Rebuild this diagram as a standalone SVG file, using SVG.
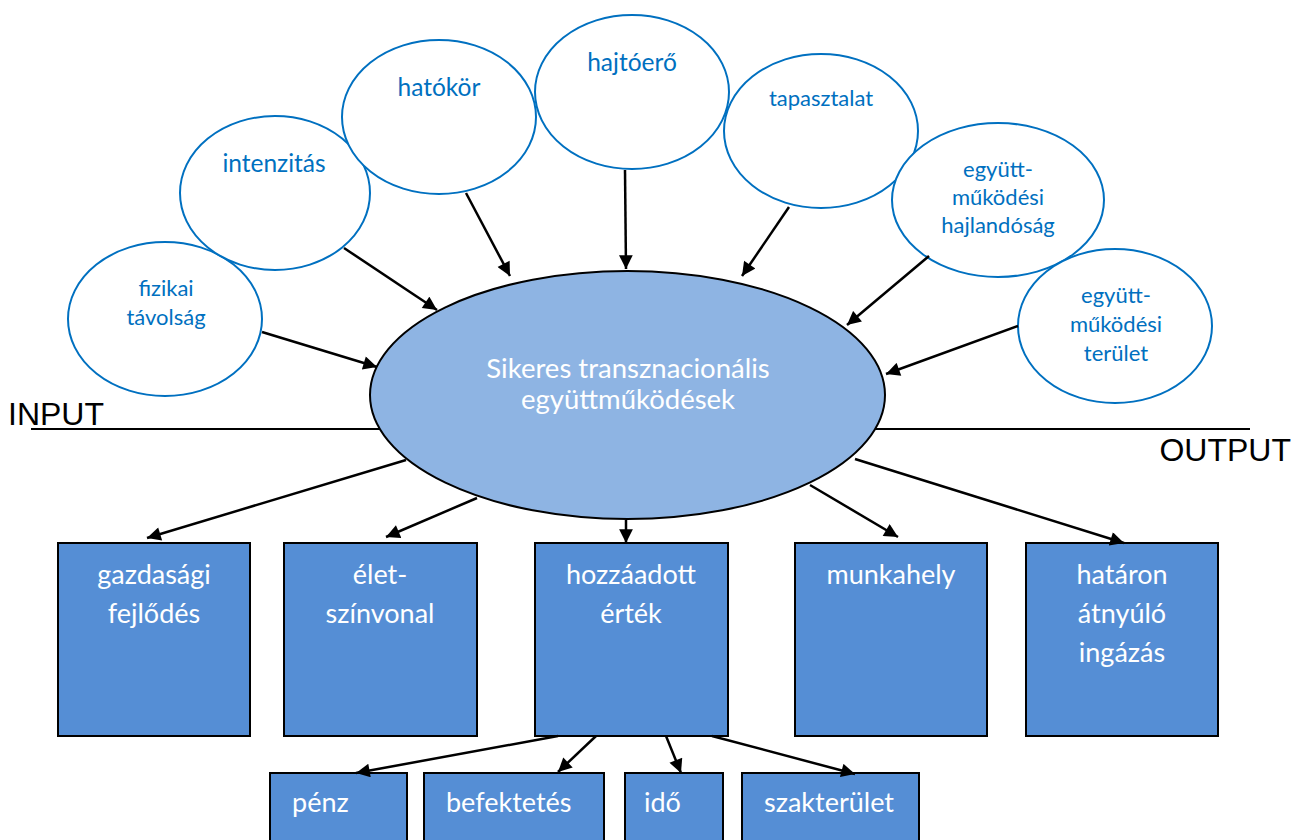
<svg xmlns="http://www.w3.org/2000/svg" width="1294" height="840" viewBox="0 0 1294 840">
  <style>
    .bubble { fill: #ffffff; stroke: #0070C0; stroke-width: 2; }
    .bubble-text { font-family: Lato, "Open Sans", sans-serif; font-size: 22px; fill: #0070C0; text-anchor: middle; }
    .big { font-size: 24.5px; }
    .core { fill: #8EB4E3; stroke: #000000; stroke-width: 2; }
    .core-text { font-family: Lato, "Open Sans", sans-serif; font-size: 27.5px; fill: #ffffff; text-anchor: middle; }
    .box { fill: #558ED5; stroke: #000000; stroke-width: 2; }
    .box-text { font-family: Lato, "Open Sans", sans-serif; font-size: 27px; fill: #ffffff; text-anchor: middle; }
    .sub-text { font-family: Lato, "Open Sans", sans-serif; font-size: 27px; fill: #ffffff; }
    .axis-label { font-family: "Liberation Sans", Arial, sans-serif; font-size: 32px; fill: #000000; }
    .link { stroke: #000000; stroke-width: 2.5; fill: none; marker-end: url(#arrow); }
  </style>
  <defs>
    <marker id="arrow" viewBox="0 0 10 10" refX="10" refY="5" markerWidth="6" markerHeight="5.5" markerUnits="strokeWidth" orient="auto">
      <path d="M0,0 L10,5 L0,10 z" fill="#000000"/>
    </marker>
  </defs>

  <rect width="1294" height="840" fill="#ffffff"/>

  <!-- input / output divider -->
  <line x1="31" y1="429" x2="1250" y2="429" stroke="#000000" stroke-width="2"/>
  <text class="axis-label" x="8" y="425">INPUT</text>
  <text class="axis-label" x="1291" y="461" text-anchor="end">OUTPUT</text>

  <!-- input factors -->
  <g id="node-fizikai-tavolsag">
    <ellipse class="bubble" cx="165" cy="319" rx="97" ry="77"/>
    <text class="bubble-text" x="166" y="296">fizikai</text>
    <text class="bubble-text" x="166" y="325">távolság</text>
  </g>
  <g id="node-intenzitas">
    <ellipse class="bubble" cx="275" cy="193" rx="95" ry="77"/>
    <text class="bubble-text big" x="274" y="172">intenzitás</text>
  </g>
  <g id="node-hatokor">
    <ellipse class="bubble" cx="439" cy="117" rx="97" ry="77"/>
    <text class="bubble-text big" x="439" y="96">hatókör</text>
  </g>
  <g id="node-hajtoero">
    <ellipse class="bubble" cx="632" cy="92" rx="97" ry="77"/>
    <text class="bubble-text big" x="632" y="71">hajtóerő</text>
  </g>
  <g id="node-tapasztalat">
    <ellipse class="bubble" cx="821" cy="131" rx="97" ry="77"/>
    <text class="bubble-text" x="821" y="106">tapasztalat</text>
  </g>
  <g id="node-hajlandosag">
    <ellipse class="bubble" cx="998" cy="200" rx="106" ry="77"/>
    <text class="bubble-text" x="998" y="177">együtt-</text>
    <text class="bubble-text" x="998" y="205">működési</text>
    <text class="bubble-text" x="998" y="233">hajlandóság</text>
  </g>
  <g id="node-terulet">
    <ellipse class="bubble" cx="1115" cy="326" rx="97" ry="77"/>
    <text class="bubble-text" x="1116" y="303">együtt-</text>
    <text class="bubble-text" x="1116" y="332">működési</text>
    <text class="bubble-text" x="1116" y="361">terület</text>
  </g>

  <!-- central topic -->
  <g id="node-core">
    <ellipse class="core" cx="627.5" cy="395" rx="257.5" ry="124"/>
    <text class="core-text" x="628" y="378">Sikeres transznacionális</text>
    <text class="core-text" x="628" y="409">együttműködések</text>
  </g>

  <!-- outcomes -->
  <g id="node-gazdasagi-fejlodes">
    <rect class="box" x="58" y="543" width="192" height="193"/>
    <text class="box-text" x="154" y="584">gazdasági</text>
    <text class="box-text" x="154" y="623">fejlődés</text>
  </g>
  <g id="node-eletszinvonal">
    <rect class="box" x="284" y="543" width="193" height="193"/>
    <text class="box-text" x="380" y="584">élet-</text>
    <text class="box-text" x="380" y="623">színvonal</text>
  </g>
  <g id="node-hozzaadott-ertek">
    <rect class="box" x="535" y="543" width="193" height="193"/>
    <text class="box-text" x="631" y="584">hozzáadott</text>
    <text class="box-text" x="631" y="623">érték</text>
  </g>
  <g id="node-munkahely">
    <rect class="box" x="795" y="543" width="192" height="193"/>
    <text class="box-text" x="891" y="584">munkahely</text>
  </g>
  <g id="node-hataron-atnyulo-ingazas">
    <rect class="box" x="1026" y="543" width="192" height="193"/>
    <text class="box-text" x="1122" y="584">határon</text>
    <text class="box-text" x="1122" y="623">átnyúló</text>
    <text class="box-text" x="1122" y="662">ingázás</text>
  </g>

  <!-- components of added value -->
  <g id="node-penz">
    <rect class="box" x="270" y="773" width="137" height="80"/>
    <text class="sub-text" x="292" y="812">pénz</text>
  </g>
  <g id="node-befektetes">
    <rect class="box" x="424" y="773" width="180" height="80"/>
    <text class="sub-text" x="446" y="812">befektetés</text>
  </g>
  <g id="node-ido">
    <rect class="box" x="625" y="773" width="98" height="80"/>
    <text class="sub-text" x="644" y="812">idő</text>
  </g>
  <g id="node-szakterulet">
    <rect class="box" x="742" y="773" width="177" height="80"/>
    <text class="sub-text" x="764" y="812">szakterület</text>
  </g>

  <!-- connectors -->
  <g id="connectors">
    <line class="link" x1="262" y1="332" x2="377" y2="367"/>
    <line class="link" x1="344" y1="248" x2="437" y2="310"/>
    <line class="link" x1="466" y1="193" x2="510" y2="276"/>
    <line class="link" x1="625" y1="170" x2="626" y2="269"/>
    <line class="link" x1="789" y1="207" x2="742" y2="276"/>
    <line class="link" x1="929" y1="256" x2="847" y2="325"/>
    <line class="link" x1="1018" y1="326" x2="886" y2="374"/>

    <line class="link" x1="406" y1="460" x2="147" y2="538"/>
    <line class="link" x1="477" y1="498" x2="386" y2="537"/>
    <line class="link" x1="626" y1="520" x2="626" y2="543"/>
    <line class="link" x1="810" y1="485" x2="898" y2="537"/>
    <line class="link" x1="855" y1="459" x2="1124" y2="543"/>

    <line class="link" x1="558" y1="736" x2="356" y2="773"/>
    <line class="link" x1="596" y1="736" x2="558" y2="772"/>
    <line class="link" x1="666" y1="736" x2="681" y2="773"/>
    <line class="link" x1="712" y1="736" x2="855" y2="774"/>
  </g>
</svg>
